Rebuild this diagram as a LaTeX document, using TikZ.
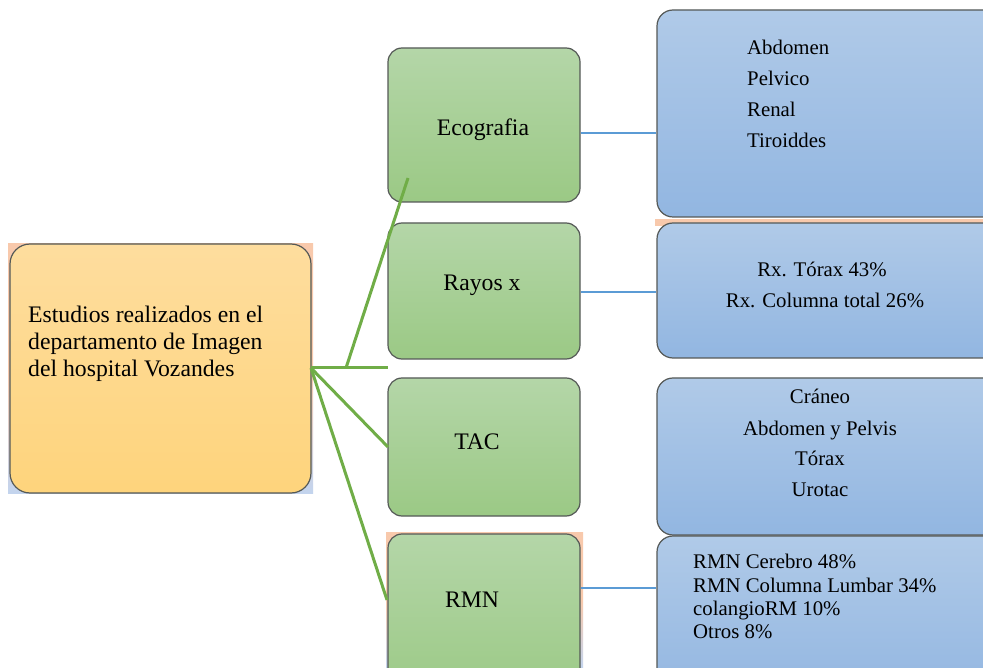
\documentclass[tikz,border=0pt]{standalone}
\usepackage{fontspec}
\setmainfont{Liberation Serif}
\definecolor{gtop}{HTML}{B4D6A8}
\definecolor{gbot}{HTML}{9BC985}
\definecolor{otop}{HTML}{FEDD9E}
\definecolor{obot}{HTML}{FED47C}
\definecolor{btop}{HTML}{B0CAE8}
\definecolor{bbot}{HTML}{92B6E1}
\definecolor{edge}{HTML}{555957}
\definecolor{glink}{HTML}{70AD47}
\definecolor{blink}{HTML}{5B9BD5}
\definecolor{peach}{HTML}{F8C9AC}
\definecolor{lblue}{HTML}{C3D4EE}
\tikzset{
  box/.style={draw=edge, line width=1.2pt, rounded corners=14pt, inner sep=0pt},
  greenbox/.style={box, top color=gtop, bottom color=gbot},
  orangebox/.style={box, rounded corners=20pt, top color=otop, bottom color=obot},
  bluebox/.style={box, rounded corners=16pt, top color=btop, bottom color=bbot},
  bigtxt/.style={inner sep=0pt, font=\fontsize{23.7}{27}\selectfont},
  smalltxt/.style={inner sep=0pt, font=\fontsize{20.8}{24}\selectfont},
  glinkst/.style={draw=glink, line width=3pt},
  blinkst/.style={draw=blink, line width=2.5pt},
}
\begin{document}
\begin{tikzpicture}[x=1pt,y=-1pt]
\useasboundingbox (0,0) rectangle (983,668);
\clip (0,0) rectangle (983,668);
\fill[white] (0,0) rectangle (983,668);
% background artifacts
\shade[top color=peach, bottom color=lblue, middle color=peach] (8,244) rectangle (313,493);
\fill[peach] (655,219) rectangle (983,226);
\shade[top color=peach, bottom color=lblue, middle color=peach] (386,532) rectangle (583,668);
% main box
\node[orangebox, minimum width=301pt, minimum height=249pt] (main) at (160.5,368.5) {};
\node[bigtxt, anchor=base west] (m1) at (28,323) {Estudios realizados en el};
\node[bigtxt, anchor=base west] (m2) at (28,350) {departamento de Imagen};
\node[bigtxt, anchor=base west] (m3) at (28,377) {del hospital Vozandes};
% green boxes
\node[greenbox, minimum width=192pt, minimum height=154pt] (eco) at (484,125) {};
\node[greenbox, minimum width=192pt, minimum height=136pt] (rx) at (484,291) {};
\node[greenbox, minimum width=192pt, minimum height=138pt] (tac) at (484,447) {};
\node[greenbox, minimum width=192pt, minimum height=166pt] (rmn) at (484,617) {};
\node[bigtxt, anchor=base] (ecot) at (483,136) {Ecografia};
\node[bigtxt, anchor=base] (rxt) at (482,291) {Rayos x};
\node[bigtxt, anchor=base] (tact) at (477,449) {TAC};
\node[bigtxt, anchor=base] (rmnt) at (472,607) {RMN};
% blue boxes
\node[bluebox, minimum width=343pt, minimum height=207pt] (b1) at (828.5,113.5) {};
\node[bluebox, minimum width=343pt, minimum height=135pt] (b2) at (828.5,290.5) {};
\node[bluebox, minimum width=343pt, minimum height=157pt] (b3) at (828.5,456.5) {};
\node[bluebox, minimum width=343pt, minimum height=164pt] (b4) at (828.5,618) {};
\node[smalltxt, anchor=base west] (t11) at (747,55) {Abdomen};
\node[smalltxt, anchor=base west] (t12) at (747,86) {Pelvico};
\node[smalltxt, anchor=base west] (t13) at (747,117) {Renal};
\node[smalltxt, anchor=base west] (t14) at (747,148) {Tiroiddes};
\node[smalltxt, anchor=base] (t21) at (822,277) {Rx. Tórax 43\%};
\node[smalltxt, anchor=base] (t22) at (825,308) {Rx. Columna total 26\%};
\node[smalltxt, anchor=base] (t31) at (820,403) {Cráneo};
\node[smalltxt, anchor=base] (t32) at (820,435) {Abdomen y Pelvis};
\node[smalltxt, anchor=base] (t33) at (820,465) {Tórax};
\node[smalltxt, anchor=base] (t34) at (820,496) {Urotac};
\node[smalltxt, anchor=base west] (t41) at (693,568) {RMN Cerebro 48\%};
\node[smalltxt, anchor=base west] (t42) at (693,592) {RMN Columna Lumbar 34\%};
\node[smalltxt, anchor=base west] (t43) at (693,615) {colangioRM 10\%};
\node[smalltxt, anchor=base west] (t44) at (693,638) {Otros 8\%};
% green connectors
\coordinate (hub) at (311,368);
\coordinate (hubr) at (388,368);
\coordinate (fork) at (346,368);
\coordinate (ecoin) at (408,178);
\coordinate (rmnin) at (387,600);
\coordinate (tacin) at (388,447);
\draw[glinkst] (hub) -- (hubr);
\draw[glinkst] (fork) -- (ecoin);
\draw[glinkst] (hub) -- (tacin);
\draw[glinkst] (hub) -- (rmnin);
% blue connectors
\draw[blinkst] (eco.east |- 0,133) -- (b1.west |- 0,133);
\draw[blinkst] (rx.east |- 0,292) -- (b2.west |- 0,292);
\draw[blinkst] (rmn.east |- 0,588) -- (b4.west |- 0,588);
\end{tikzpicture}
\end{document}
